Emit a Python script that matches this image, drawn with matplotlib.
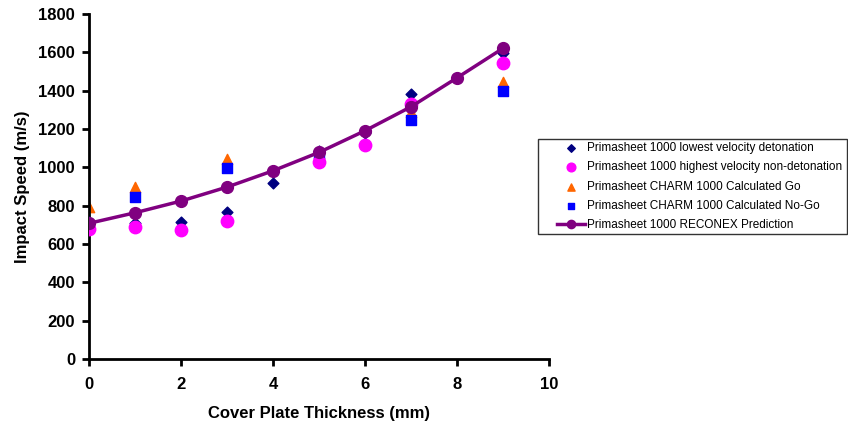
import numpy as np
import matplotlib.pyplot as plt
from matplotlib.patches import Rectangle

plt.rcParams['font.family'] = ['Liberation Sans', 'DejaVu Sans']

# measured data
x_det = [0, 1, 2, 3, 4, 5, 6, 7, 9]
y_det = [715, 711, 715, 765, 916, 1085, 1180, 1381, 1595]

x_nondet = [0, 1, 2, 3, 5, 6, 7, 9]
y_nondet = [676, 690, 673, 718, 1029, 1114, 1330, 1542]

x_go = [0, 1, 3, 5, 7, 9]
y_go = [794, 896, 1045, 1075, 1290, 1447]

x_nogo = [1, 3, 5, 7, 9]
y_nogo = [844, 995, 1047, 1247, 1400]

x_rec = [0, 1, 2, 3, 4, 5, 6, 7, 8, 9]
y_rec = [708, 763, 824, 897, 982, 1078, 1191, 1316, 1467, 1621]

labels = ['Primasheet 1000 lowest velocity detonation',
          'Primasheet 1000 highest velocity non-detonation',
          'Primasheet CHARM 1000 Calculated Go',
          'Primasheet CHARM 1000 Calculated No-Go',
          'Primasheet 1000 RECONEX Prediction']

W, H = 848, 426
fig = plt.figure(figsize=(W / 100, H / 100), dpi=100)
ax = fig.add_axes([89 / W, (H - 359) / H, 460 / W, 345 / H])

ax.scatter(x_det, y_det, marker='D', s=30, color='#000080', label=labels[0], zorder=3)
ax.scatter(x_nondet, y_nondet, marker='o', s=80, color='#FF00FF', label=labels[1], zorder=4)
ax.scatter(x_go, y_go, marker='^', s=55, color='#FF6600', label=labels[2], zorder=2)
ax.scatter(x_nogo, y_nogo, marker='s', s=42, color='#0000FF', label=labels[3], zorder=3)
ax.plot(x_rec, y_rec, '-o', color='#800080', lw=2.5, ms=8.5, label=labels[4], zorder=5)

ax.set_xlim(0, 10)
ax.set_ylim(0, 1800)
ax.set_xticks(np.arange(0, 11, 2))
ax.set_yticks(np.arange(0, 1801, 200))
for s in ['top', 'right']:
    ax.spines[s].set_visible(False)
for s in ['left', 'bottom']:
    ax.spines[s].set_linewidth(2)
ax.tick_params(width=2, length=5, direction='out', labelsize=12)
ax.tick_params(axis='x', pad=8)
ax.tick_params(axis='y', pad=5)
for t in ax.get_xticklabels() + ax.get_yticklabels():
    t.set_fontweight('bold')
ax.set_xlabel('Cover Plate Thickness (mm)', fontsize=12, fontweight='bold', labelpad=10)
ax.set_ylabel('Impact Speed (m/s)', fontsize=12, fontweight='bold', labelpad=6)

# legend box drawn by hand, entries placed inside it
fig.patches.append(Rectangle((538 / W, (H - 234) / H), 309 / W, 95 / H,
                             transform=fig.transFigure, fill=False,
                             edgecolor='#333333', lw=1))
leg = fig.legend(loc='upper left', bbox_to_anchor=(557 / W, (H - 142) / H), fontsize=8.5,
                 frameon=False, borderpad=0, borderaxespad=0,
                 labelspacing=0.62, handlelength=2.4, handletextpad=0.1, markerscale=0.7)

fig.savefig('out.png', dpi=100)
